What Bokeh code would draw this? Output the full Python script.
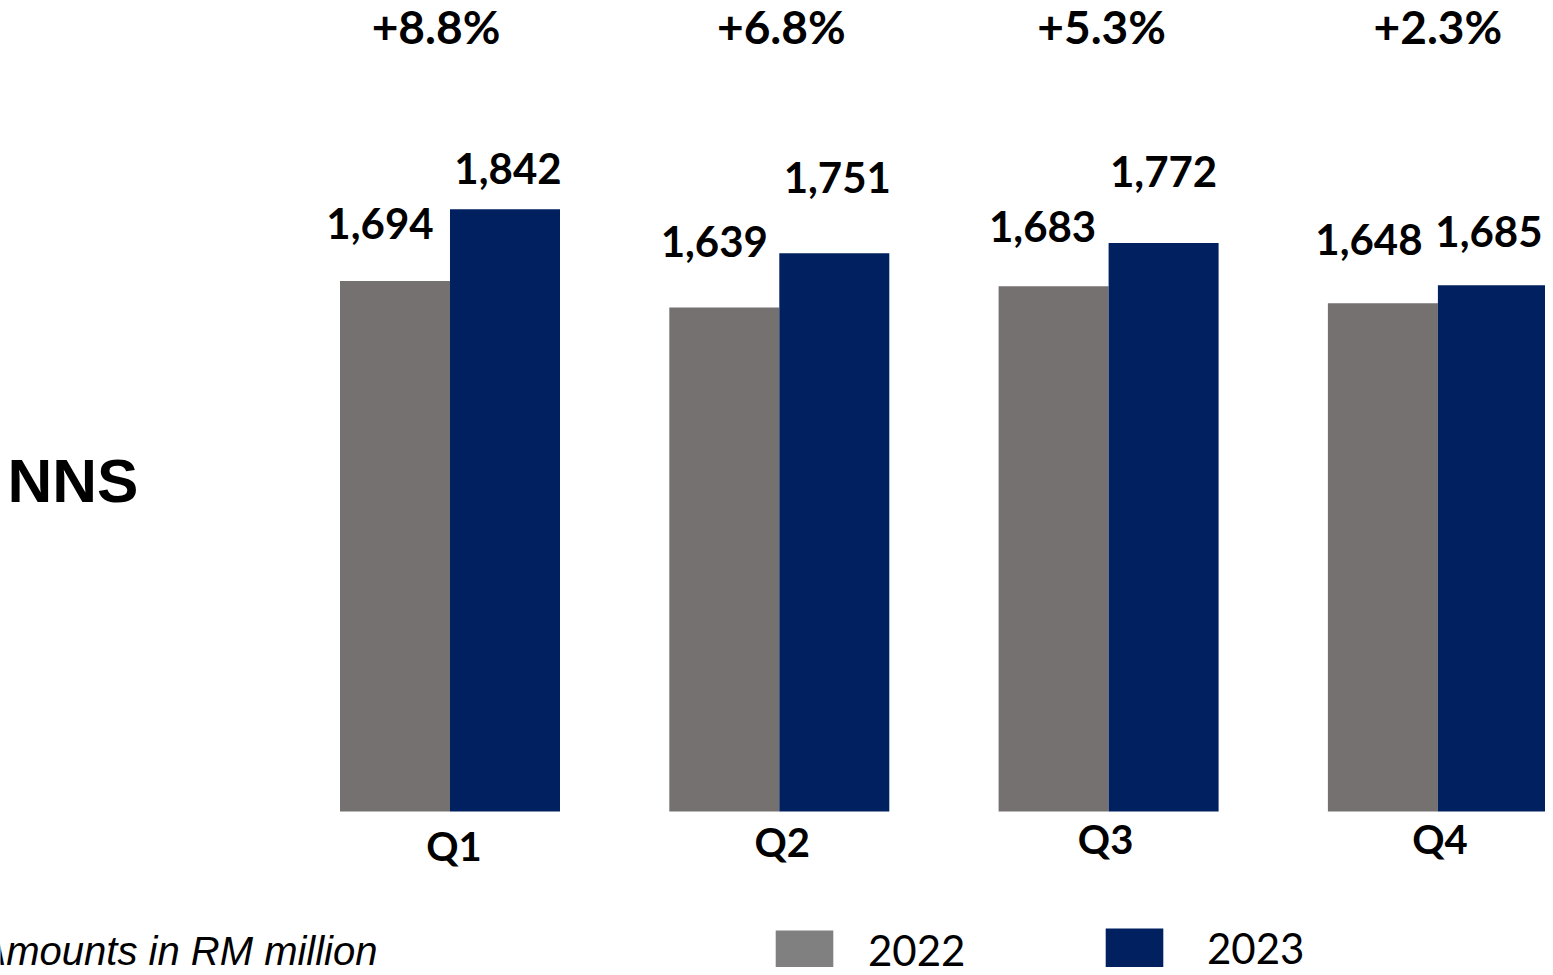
from bokeh.plotting import figure
from bokeh.models import ColumnDataSource, Range1d, Legend, LegendItem
from bokeh.core.properties import value
from bokeh.transform import dodge
from bokeh.embed import file_html
from bokeh.resources import INLINE

# ---------------- data ----------------
QUARTERS = ["Q1", "Q2", "Q3", "Q4"]
SALES_2022 = [1694, 1639, 1683, 1648]
SALES_2023 = [1842, 1751, 1772, 1685]
GROWTH_LABELS = ["+8.8%", "+6.8%", "+5.3%", "+2.3%"]
SERIES = ["2022", "2023"]
TITLE = "NNS"
NOTE = "Amounts in RM million"
AXIS_MIN = 600

# ---------------- layout / style ----------------
W, H = 1545, 967
PX_PER_GROUP = 329.3
FIRST_GROUP_PX = 449.5
PX_PER_UNIT = 0.485
BASE_PX_FROM_BOTTOM = H - 811
BAR_W = 110 / PX_PER_GROUP

C22 = "#767171"
C23 = "#002060"
C22_LEGEND = "#808080"

LBL_FONT = "Lato"
# per-label pixel nudges (screen px, label centre relative to anchor)
DX22 = [-15, -10, -11, -14]
DY22 = [-57, -66, -60, -64]
DX23 = [3, 3, 0, -4]
DY23 = [-41, -76, -72, -54]
PCT_DX = [-14, 2, -7, 0]
Q_DX = [4, 3, -3, 2]
Q_DY = [34, 30, 27, 27]

x_start = -FIRST_GROUP_PX / PX_PER_GROUP
x_end = (W - FIRST_GROUP_PX) / PX_PER_GROUP
y_start = AXIS_MIN - BASE_PX_FROM_BOTTOM / PX_PER_UNIT
y_end = y_start + H / PX_PER_UNIT

p = figure(width=W, height=H, output_backend="svg", toolbar_location=None,
           x_range=Range1d(x_start, x_end), y_range=Range1d(y_start, y_end),
           x_axis_type=None, y_axis_type=None, min_border=0)
p.outline_line_color = None
p.background_fill_color = "white"
p.border_fill_color = "white"

idx = list(range(len(QUARTERS)))
src = ColumnDataSource(dict(x=idx, q=QUARTERS, v22=SALES_2022, v23=SALES_2023,
                            t22=[f"{v:,}" for v in SALES_2022],
                            t23=[f"{v:,}" for v in SALES_2023],
                            pct=GROWTH_LABELS,
                            dx22=DX22, dy22=DY22, dx23=DX23, dy23=DY23,
                            pdx=PCT_DX, qdx=Q_DX, qdy=Q_DY,
                            top=[y_end] * len(idx), base=[AXIS_MIN] * len(idx)))

r22 = p.vbar(x=dodge("x", -BAR_W / 2, range=p.x_range), top="v22", bottom=AXIS_MIN,
             width=BAR_W, source=src, fill_color=C22, line_color=None)
r23 = p.vbar(x=dodge("x", BAR_W / 2, range=p.x_range), top="v23", bottom=AXIS_MIN,
             width=BAR_W, source=src, fill_color=C23, line_color=None)

common = dict(text_align="center", text_baseline="middle", text_font=value(LBL_FONT),
              text_font_style="bold", text_color="black")

# value labels
p.text(x=dodge("x", -BAR_W / 2, range=p.x_range), y="v22", text="t22", source=src,
       x_offset="dx22", y_offset="dy22", text_font_size="42px", **common)
p.text(x=dodge("x", BAR_W / 2, range=p.x_range), y="v23", text="t23", source=src,
       x_offset="dx23", y_offset="dy23", text_font_size="42px", **common)

# growth labels on top
p.text(x="x", y="top", text="pct", source=src, x_offset="pdx", y_offset=26,
       text_font_size="46px", **common)

# quarter labels
p.text(x="x", y="base", text="q", source=src, x_offset="qdx", y_offset="qdy",
       text_font_size="40px", **common)

# side title
p.text(x=[x_start], y=[y_end], text=[TITLE], x_offset=7, y_offset=480,
       text_align="left", text_baseline="middle",
       text_font=value("Liberation Sans"), text_font_style="bold", text_font_size="62px",
       text_color="black")

# note
p.text(x=[x_start], y=[y_end], text=[NOTE], x_offset=377, y_offset=950,
       text_align="right", text_baseline="middle",
       text_font=value("Liberation Sans"), text_font_style="italic", text_font_size="40px",
       text_color="black")

# legend proxies (zero-size bars, only used for legend swatches)
g22 = p.vbar(x="x", top="base", bottom="base", width=0, source=src,
             fill_color=C22_LEGEND, line_color=None)
g23 = p.vbar(x="x", top="base", bottom="base", width=0, source=src,
             fill_color=C23, line_color=None)


def make_legend(label, rend, loc, standoff, fsize):
    # area swatches are inset 10% on each side, so 72x50 gives a ~58x40 patch
    lg = Legend(items=[LegendItem(label=label, renderers=[rend])], location=loc,
                orientation="horizontal", glyph_width=72, glyph_height=50,
                label_standoff=standoff, label_text_font=LBL_FONT,
                label_text_font_size=fsize, label_text_color="black",
                padding=0, margin=0, border_line_color=None,
                background_fill_alpha=0, spacing=0)
    p.add_layout(lg, "center")


make_legend(SERIES[0], g22, (768, -8), 28, "42px")
make_legend(SERIES[1], g23, (1098, -6), 37, "42px")

open("out.html", "w").write(file_html(p, INLINE))
